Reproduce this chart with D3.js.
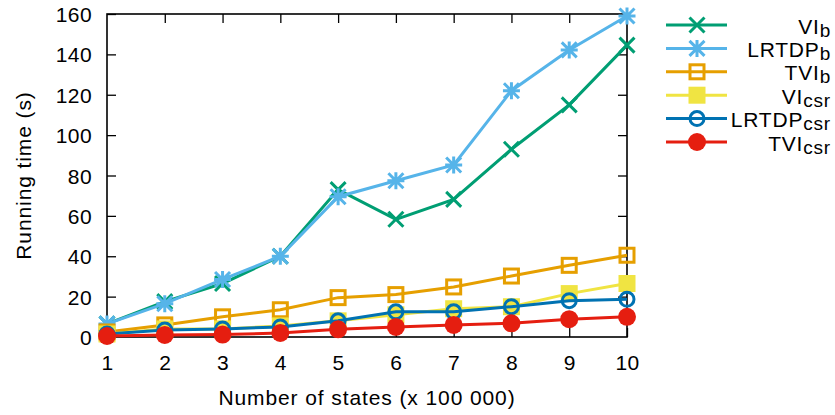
<!DOCTYPE html>
<html><head><meta charset="utf-8">
<script src="https://cdn.jsdelivr.net/npm/d3@7"></script>
<style>body{margin:0;background:#fff}svg{display:block;font-family:"Liberation Sans",Arial,sans-serif}</style>
</head><body><svg id="c" width="835" height="415"></svg>
<script>
const states = [1,2,3,4,5,6,7,8,9,10];
const VI_b      = [6.5,17.5,26.5,40,73,58.3,68.2,93,115,144.6];
const LRTDP_b   = [6.5,16.5,28.5,40,69.5,77.4,85.2,122,142.2,159];
const TVI_b     = [2.5,6,10,13.5,19.5,21,24.8,30.2,35.5,40.5];
const VI_csr    = [1.5,4,4,5.5,8,11,14,15,21.5,26.5];
const LRTDP_csr = [1.5,3.5,4,5,8,12.5,12.5,15,18,18.7];
const TVI_csr   = [0.5,1,1.2,2,3.8,5,6,6.8,8.8,10];
const yTicks = [0,20,40,60,80,100,120,140,160];
const xTicks = [1,2,3,4,5,6,7,8,9,10];

const series = [
  {name:"VI", sub:"b", values:VI_b, color:"#009e73", marker:"cross"},
  {name:"LRTDP", sub:"b", values:LRTDP_b, color:"#56b4e9", marker:"star"},
  {name:"TVI", sub:"b", values:TVI_b, color:"#e69f00", marker:"osquare"},
  {name:"VI", sub:"csr", values:VI_csr, color:"#f0e442", marker:"fsquare"},
  {name:"LRTDP", sub:"csr", values:LRTDP_csr, color:"#0072b2", marker:"ocircle"},
  {name:"TVI", sub:"csr", values:TVI_csr, color:"#e51e10", marker:"fcircle"}
];

const L=107, R=627, T=14, B=337;
const svg = d3.select("#c");
const x = d3.scaleLinear().domain([1,10]).range([L,R]);
const y = d3.scaleLinear().domain([0,160]).range([B,T]);
const fs = 21, ls = "0.8px";

// axes with inward ticks
const tl = 9;
svg.append("g").attr("transform",`translate(${L},0)`)
  .call(d3.axisLeft(y).tickValues(yTicks).tickSize(-tl).tickPadding(tl+6))
  .call(g=>{g.select(".domain").remove();g.selectAll("text").attr("font-size",fs).attr("fill","#000").attr("font-family","Liberation Sans").attr("letter-spacing","0.4px").attr("dy","0.36em");g.selectAll("line").attr("stroke","#000").attr("stroke-width",1.3);});
svg.append("g").attr("transform",`translate(${R},0)`)
  .call(d3.axisRight(y).tickValues(yTicks.slice(1,-1)).tickSize(-tl).tickFormat(""))
  .call(g=>{g.select(".domain").remove();g.selectAll("line").attr("stroke","#000").attr("stroke-width",1.3);});
svg.append("g").attr("transform",`translate(0,${B})`)
  .call(d3.axisBottom(x).tickValues(xTicks).tickSize(-tl).tickPadding(tl+9))
  .call(g=>{g.select(".domain").remove();g.selectAll("text").attr("font-size",fs).attr("fill","#000").attr("font-family","Liberation Sans").attr("letter-spacing","0.4px").attr("dy","0.71em");g.selectAll("line").attr("stroke","#000").attr("stroke-width",1.3);});
svg.append("g").attr("transform",`translate(0,${T})`)
  .call(d3.axisTop(x).tickValues(xTicks.slice(1,-1)).tickSize(-tl).tickFormat(""))
  .call(g=>{g.select(".domain").remove();g.selectAll("line").attr("stroke","#000").attr("stroke-width",1.3);});
svg.append("rect").attr("x",L).attr("y",T).attr("width",R-L).attr("height",B-T)
  .attr("fill","none").attr("stroke","#000").attr("stroke-width",1.6);

// titles
svg.append("text").attr("x",(L+R)/2).attr("y",405).attr("text-anchor","middle")
  .attr("font-size",fs).attr("letter-spacing","0.9px").text("Number of states (x 100 000)");
svg.append("text").attr("transform",`translate(31,${(T+B)/2}) rotate(-90)`).attr("text-anchor","middle")
  .attr("font-size",fs).attr("letter-spacing","0.9px").text("Running time (s)");

function drawMarker(g, type, cx, cy, color){
  const s=7.5;
  if(type==="cross"){
    g.append("path").attr("d",`M${cx-s},${cy-s}L${cx+s},${cy+s}M${cx-s},${cy+s}L${cx+s},${cy-s}`)
      .attr("stroke",color).attr("stroke-width",3).attr("fill","none");
  } else if(type==="star"){
    g.append("path").attr("d",`M${cx-s},${cy-s}L${cx+s},${cy+s}M${cx-s},${cy+s}L${cx+s},${cy-s}M${cx-s-1},${cy}L${cx+s+1},${cy}M${cx},${cy-s-1}L${cx},${cy+s+1}`)
      .attr("stroke",color).attr("stroke-width",3).attr("fill","none");
  } else if(type==="osquare"){
    g.append("rect").attr("x",cx-7).attr("y",cy-7).attr("width",14).attr("height",14)
      .attr("stroke",color).attr("stroke-width",3).attr("fill","none");
  } else if(type==="fsquare"){
    g.append("rect").attr("x",cx-8.5).attr("y",cy-8.5).attr("width",17).attr("height",17).attr("fill",color);
  } else if(type==="ocircle"){
    g.append("circle").attr("cx",cx).attr("cy",cy).attr("r",7).attr("stroke",color).attr("stroke-width",3).attr("fill","none");
  } else if(type==="fcircle"){
    g.append("circle").attr("cx",cx).attr("cy",cy).attr("r",9).attr("fill",color);
  }
}

const line = d3.line().x((d,i)=>x(states[i])).y(d=>y(d));
const plot = svg.append("g");
series.forEach(s=>{
  const g = plot.append("g");
  g.append("path").attr("d",line(s.values)).attr("fill","none").attr("stroke",s.color).attr("stroke-width",3);
  s.values.forEach((v,i)=>drawMarker(g,s.marker,x(states[i]),y(v),s.color));
});

// legend
const lg = svg.append("g");
series.forEach((s,i)=>{
  const yy = 25 + i*23.4;
  lg.append("line").attr("x1",666).attr("x2",727).attr("y1",yy).attr("y2",yy).attr("stroke",s.color).attr("stroke-width",3);
  drawMarker(lg,s.marker,697,yy,s.color);
  const t = lg.append("text").attr("x",831).attr("y",yy+8.5).attr("text-anchor","end").attr("font-size",fs).attr("letter-spacing",ls);
  t.append("tspan").text(s.name);
  t.append("tspan").attr("font-size",19).attr("dy",3).text(s.sub);
});
</script></body></html>
